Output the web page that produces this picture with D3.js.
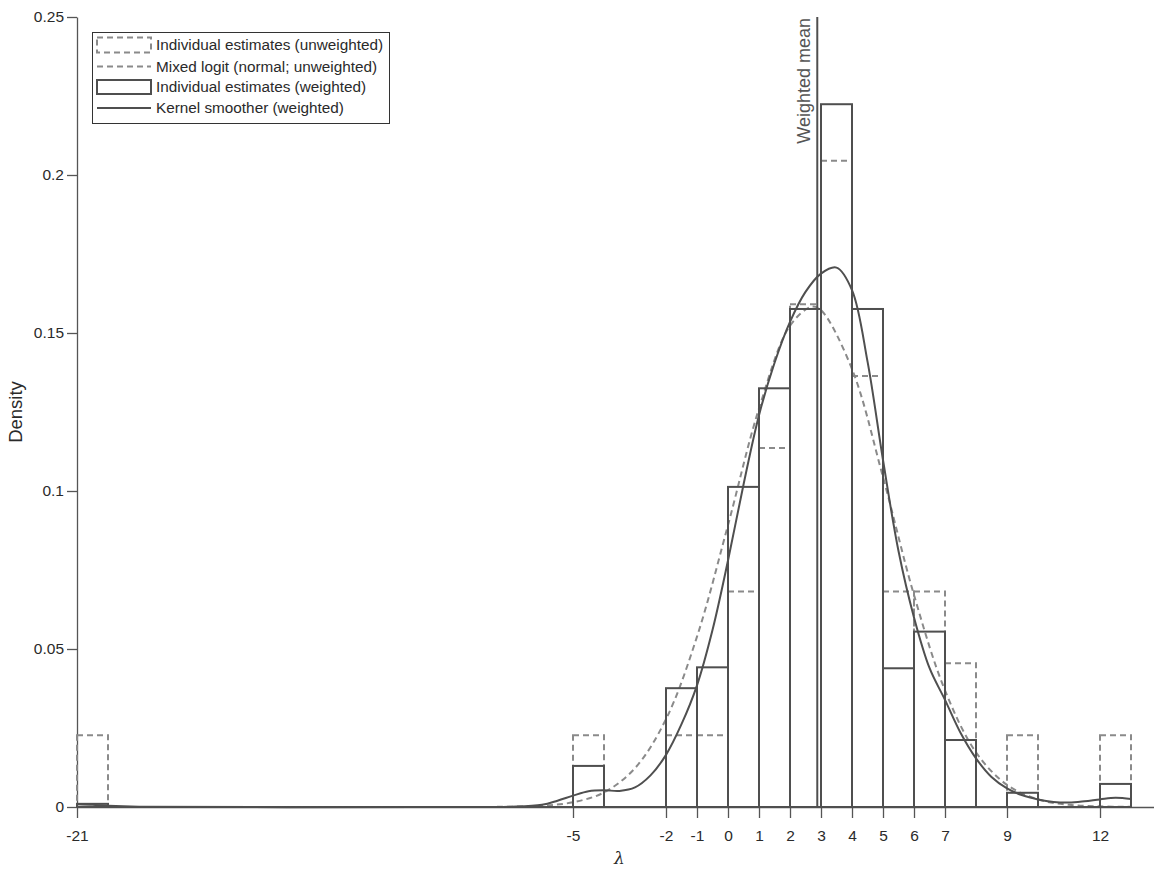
<!DOCTYPE html>
<html>
<head>
<meta charset="utf-8">
<script src="https://cdn.jsdelivr.net/npm/d3@7"></script>
<style>
  html, body { margin: 0; padding: 0; background: #fff; }
  svg { display: block; font-family: "Liberation Sans", Arial, Helvetica, sans-serif; }
</style>
</head>
<body>
<svg id="chart" width="1154" height="869"></svg>
<script>
// ---- data ----
const binStarts  = [-21, -5, -2, -1, 0, 1, 2, 3, 4, 5, 6, 7, 9, 12];
const unweighted = [0.0227, 0.0227, 0.0227, 0.0227, 0.0682, 0.1136, 0.1591, 0.2045, 0.1364, 0.0682, 0.0682, 0.0455, 0.0227, 0.0227];
const weighted   = [0.0010, 0.0130, 0.0376, 0.0442, 0.1013, 0.1325, 0.1576, 0.2224, 0.1576, 0.0439, 0.0555, 0.0212, 0.0045, 0.0073];

const mixedX = [-21, -10, -8, -7, -6, -5, -4, -3, -2, -1, 0, 1, 2, 2.7, 3, 4, 5, 6, 7, 8, 9, 10, 11, 12, 13];
const mixedY = [0, 0, 0.00002, 0.0001, 0.0004, 0.0015, 0.0046, 0.0123, 0.0278, 0.0539, 0.0892, 0.1261, 0.1523, 0.1583, 0.1572, 0.1386, 0.1044, 0.0671, 0.0369, 0.0173, 0.0070, 0.0024, 0.0007, 0.0002, 0.00004];

const kernelX = [-21, -20.5, -20, -19, -10, -7, -6, -5.5, -5, -4.5, -4, -3.5, -3, -2.5, -2, -1.5, -1, -0.5, 0, 0.5, 1, 1.5, 2, 2.5, 3, 3.5, 4, 4.5, 5, 5.5, 6, 6.5, 7, 7.5, 8, 8.5, 9, 9.5, 10, 10.5, 11, 11.5, 12, 12.5, 13];
const kernelY = [0.0009, 0.0007, 0.0004, 0.0001, 0, 0.0001, 0.0007, 0.0020, 0.0036, 0.0050, 0.0053, 0.0051, 0.0062, 0.0100, 0.0165, 0.0262, 0.0385, 0.0560, 0.0780, 0.1020, 0.1240, 0.1405, 0.1535, 0.1630, 0.1688, 0.1707, 0.1636, 0.1410, 0.1098, 0.0810, 0.0600, 0.0440, 0.0339, 0.0235, 0.0154, 0.0095, 0.0059, 0.0037, 0.0024, 0.0016, 0.0014, 0.0018, 0.0024, 0.0029, 0.0025];

const weightedMean = 2.88;
const xTicks = [-21, -5, -2, -1, 0, 1, 2, 3, 4, 5, 6, 7, 9, 12];
const yTicks = [0, 0.05, 0.1, 0.15, 0.2, 0.25];
const yTickLabels = ["0", "0.05", "0.1", "0.15", "0.2", "0.25"];
const legendLabels = ["Individual estimates (unweighted)", "Mixed logit (normal; unweighted)", "Individual estimates (weighted)", "Kernel smoother (weighted)"];

// ---- layout ----
const binWidth = 1;
const svg = d3.select("#chart");
const x = d3.scaleLinear().domain([-21, 14]).range([77, 1162]);
const y = d3.scaleLinear().domain([0, 0.25]).range([807, 17]);

const SOLID = "#4f4f4f";
const DASH = "#8a8a8a";
const DASHARRAY = "6,4";

// axes
const yAxis = svg.append("g").attr("transform", `translate(${x(-21)},0)`)
  .call(d3.axisLeft(y).tickValues(yTicks).tickFormat((d, i) => yTickLabels[i]).tickSize(10).tickSizeOuter(0).tickPadding(3));
const xAxis = svg.append("g").attr("transform", `translate(0,${y(0)})`)
  .call(d3.axisBottom(x).tickValues(xTicks).tickFormat(d => String(d)).tickSize(11).tickSizeOuter(0).tickPadding(12));
[xAxis, yAxis].forEach(g => {
  g.selectAll("path.domain").attr("stroke", "#555").attr("stroke-width", 1.3);
  g.selectAll(".tick line").attr("stroke", "#555").attr("stroke-width", 1.3);
  g.selectAll(".tick text").attr("fill", "#2a2a2a").style("font-size", "15.5px")
    .style("font-family", '"Liberation Sans", Arial, sans-serif');
});
xAxis.selectAll(".tick text").attr("dy", "0.71em");

// unweighted histogram (dashed)
const plot = svg.append("g");
plot.append("line").attr("x1", x(-21)).attr("x2", x(13)).attr("y1", y(0)).attr("y2", y(0))
  .attr("stroke", DASH).attr("stroke-width", 2).attr("stroke-dasharray", DASHARRAY);
plot.selectAll("rect.unw").data(binStarts).join("rect").attr("class", "unw")
  .attr("x", d => x(d)).attr("width", d => x(d + binWidth) - x(d))
  .attr("y", (d, i) => y(unweighted[i])).attr("height", (d, i) => y(0) - y(unweighted[i]))
  .attr("fill", "none").attr("stroke", DASH).attr("stroke-width", 2).attr("stroke-dasharray", DASHARRAY);

// mixed logit normal density (dashed)
const curveLine = d3.line().x(d => x(d[0])).y(d => y(d[1])).curve(d3.curveCatmullRom.alpha(0.5));
plot.append("path").datum(mixedX.map((v, i) => [v, mixedY[i]]))
  .attr("d", curveLine).attr("fill", "none").attr("stroke", DASH).attr("stroke-width", 2).attr("stroke-dasharray", DASHARRAY);

// weighted histogram (solid)
plot.append("line").attr("x1", x(-21)).attr("x2", x(13)).attr("y1", y(0)).attr("y2", y(0))
  .attr("stroke", SOLID).attr("stroke-width", 2);
plot.selectAll("rect.w").data(binStarts).join("rect").attr("class", "w")
  .attr("x", d => x(d)).attr("width", d => x(d + binWidth) - x(d))
  .attr("y", (d, i) => y(weighted[i])).attr("height", (d, i) => y(0) - y(weighted[i]))
  .attr("fill", "none").attr("stroke", SOLID).attr("stroke-width", 2);

// kernel smoother (solid)
plot.append("path").datum(kernelX.map((v, i) => [v, kernelY[i]]))
  .attr("d", curveLine).attr("fill", "none").attr("stroke", SOLID).attr("stroke-width", 2);

// weighted mean line
plot.append("line").attr("x1", x(weightedMean)).attr("x2", x(weightedMean))
  .attr("y1", y(0)).attr("y2", y(0.25)).attr("stroke", SOLID).attr("stroke-width", 2);
svg.append("text").attr("transform", `translate(${x(weightedMean) - 7},18) rotate(-90)`)
  .attr("text-anchor", "end").attr("fill", "#555").style("font-size", "18px").text("Weighted mean");

// axis titles
svg.append("text").attr("transform", `translate(22,${(y(0) + y(0.25)) / 2}) rotate(-90)`)
  .attr("text-anchor", "middle").attr("fill", "#2a2a2a").style("font-size", "18.5px").text("Density");
svg.append("text").attr("x", (x(-21) + x(14)) / 2).attr("y", 864)
  .attr("text-anchor", "middle").attr("fill", "#2a2a2a").style("font-size", "17px").style("font-style", "italic")
  .style("font-family", '"DejaVu Serif", serif').text("λ");

// legend
const lg = svg.append("g");
lg.append("rect").attr("x", 92.5).attr("y", 32.5).attr("width", 297).attr("height", 91)
  .attr("fill", "#fff").attr("stroke", "#333").attr("stroke-width", 1);
const rowY = [45, 66.5, 87, 108];
const sx0 = 97, sx1 = 151;
// row 1: dashed box
lg.append("rect").attr("x", sx0).attr("y", rowY[0] - 7.5).attr("width", sx1 - sx0).attr("height", 15)
  .attr("fill", "none").attr("stroke", DASH).attr("stroke-width", 2).attr("stroke-dasharray", DASHARRAY);
// row 2: dashed line
lg.append("line").attr("x1", sx0).attr("x2", sx1).attr("y1", rowY[1]).attr("y2", rowY[1])
  .attr("stroke", DASH).attr("stroke-width", 2).attr("stroke-dasharray", DASHARRAY);
// row 3: solid box
lg.append("rect").attr("x", sx0).attr("y", rowY[2] - 7).attr("width", sx1 - sx0).attr("height", 14)
  .attr("fill", "none").attr("stroke", SOLID).attr("stroke-width", 2);
// row 4: solid line
lg.append("line").attr("x1", sx0).attr("x2", sx1).attr("y1", rowY[3]).attr("y2", rowY[3])
  .attr("stroke", SOLID).attr("stroke-width", 2);
lg.selectAll("text.lab").data(legendLabels).join("text").attr("class", "lab")
  .attr("x", 156).attr("y", (d, i) => rowY[i]).attr("dy", "0.35em")
  .attr("fill", "#2a2a2a").style("font-size", "15.3px").text(d => d);
</script>
</body>
</html>
